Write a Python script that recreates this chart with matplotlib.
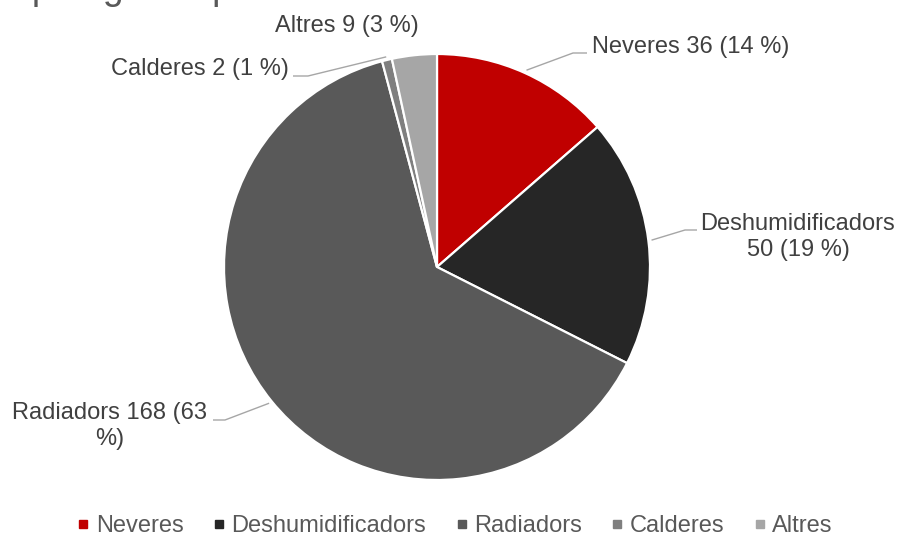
import numpy as np
import matplotlib
matplotlib.use('Agg')
import matplotlib.pyplot as plt
from matplotlib.lines import Line2D

matplotlib.rcParams['font.family'] = ['Liberation Sans', 'DejaVu Sans']

# Data
categories = ['Neveres', 'Deshumidificadors', 'Radiadors', 'Calderes', 'Altres']
counts = [36, 50, 168, 2, 9]
percents = [14, 19, 63, 1, 3]
label_texts = ['Neveres 36 (14 %)',
               'Deshumidificadors\n50 (19 %)',
               'Radiadors 168 (63\n%)',
               'Calderes 2 (1 %)',
               'Altres 9 (3 %)']
colors = ['#C00000', '#262626', '#595959', '#7F7F7F', '#A6A6A6']

# Layout (pixel units, y measured from the top)
W, H = 900, 536
center_px = (437, 267)
radius_px = 213
text_color = '#404040'
leader_color = '#A6A6A6'
fontsize = 17

# label anchor, alignment, and leader elbow points
label_pos = [(592, 53, 'left', 'baseline'),
             (798, 213, 'center', 'top'),
             (110, 402, 'center', 'top'),
             (289, 75, 'right', 'baseline'),
             (347, 32, 'center', 'baseline')]
leader_pts = [[(573, 53), (587, 53)],
              [(685, 230), (697, 230)],
              [(225, 420), (213, 420)],
              [(308, 76), (293, 76)],
              None]

fig = plt.figure(figsize=(W / 100, H / 100), dpi=100)
fig.patch.set_facecolor('white')
ax = fig.add_axes([0, 0, 1, 1])

wedges, _ = ax.pie(counts, colors=colors, startangle=90, counterclock=False,
                   center=(center_px[0], H - center_px[1]), radius=radius_px,
                   wedgeprops=dict(edgecolor='white', linewidth=1.6))
ax.set_xlim(0, W)
ax.set_ylim(0, H)
ax.set_aspect('equal')
ax.axis('off')

for w, txt, (x, y, ha, va), pts in zip(wedges, label_texts, label_pos, leader_pts):
    ax.text(x, H - y, txt, ha=ha, va=va, multialignment='center',
            fontsize=fontsize, color=text_color, linespacing=1.22)
    if pts is None:
        continue
    mid = np.deg2rad((w.theta1 + w.theta2) / 2)
    sx = center_px[0] + radius_px * 1.015 * np.cos(mid)
    sy = H - center_px[1] + radius_px * 1.015 * np.sin(mid)
    xs = [sx] + [p[0] for p in pts]
    ys = [sy] + [H - p[1] for p in pts]
    ax.plot(xs, ys, color=leader_color, lw=1.0, solid_capstyle='butt')

# Title sits above the top edge, only descenders show
fig.text(2 / W, 1 + 1 / H, "Tipologia d'aparells", fontsize=27,
         color='#595959', ha='left', va='baseline')

handles = [Line2D([], [], marker='s', linestyle='none', markersize=5.5,
                  markerfacecolor=c, markeredgecolor=c) for c in colors]
fig.legend(handles, categories, loc='center', bbox_to_anchor=(0.506, 1 - 526.5 / H),
           ncol=5, frameon=False, fontsize=fontsize, handlelength=0.45,
           handletextpad=0.3, columnspacing=1.28, labelcolor='#595959',
           borderpad=0)

plt.savefig('out.png', dpi=100, facecolor='white')
